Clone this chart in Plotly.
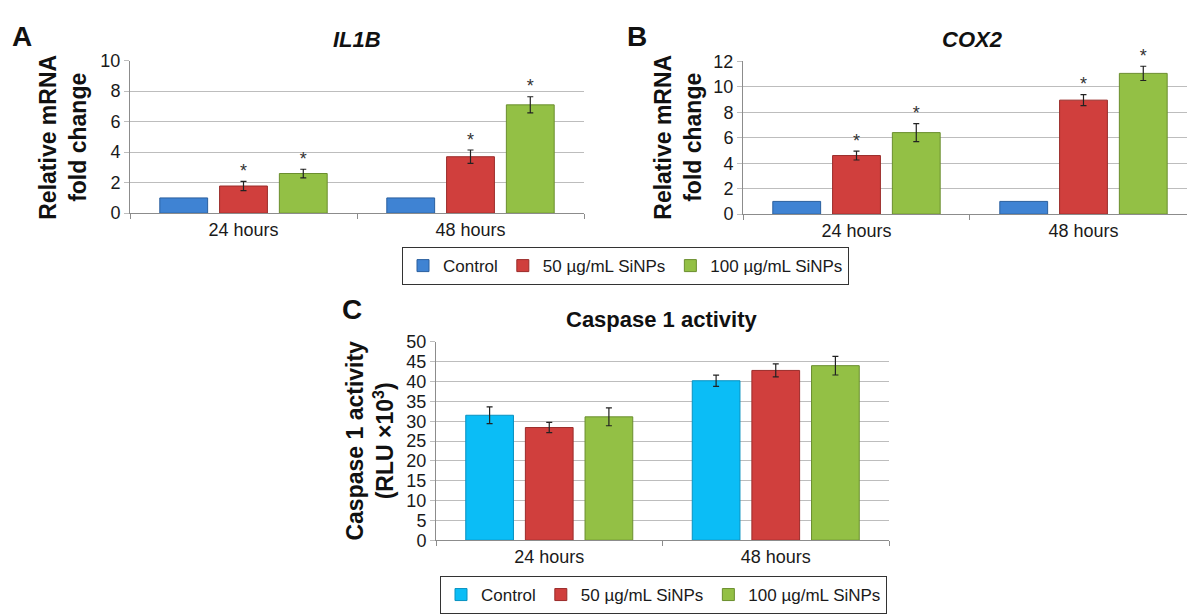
import plotly.graph_objects as go

# ---------------- data ----------------
categories = ["24 hours", "48 hours"]
series_names = ["Control", "50 µg/mL SiNPs", "100 µg/mL SiNPs"]

il1b_control = [1.0, 1.0]
il1b_50 = [1.78, 3.7]
il1b_100 = [2.6, 7.1]
il1b_50_err = [0.30, 0.44]
il1b_100_err = [0.28, 0.53]

cox2_control = [1.0, 1.0]
cox2_50 = [4.6, 8.95]
cox2_100 = [6.4, 11.05]
cox2_50_err = [0.35, 0.43]
cox2_100_err = [0.70, 0.56]

casp_control = [31.5, 40.2]
casp_50 = [28.4, 42.8]
casp_100 = [31.1, 44.0]
casp_control_err = [2.1, 1.4]
casp_50_err = [1.3, 1.65]
casp_100_err = [2.25, 2.35]

# significance marks per series (None = series has no marks)
sig_control = None
sig_treated = ["*", "*"]

ticks_mrna_a = [0, 2, 4, 6, 8, 10]
ticks_mrna_b = [0, 2, 4, 6, 8, 10, 12]
ticks_casp = [0, 5, 10, 15, 20, 25, 30, 35, 40, 45, 50]

# ---------------- styles ----------------
W, H = 1187, 616
FONT = "Liberation Sans, Arial, sans-serif"
col_blue, edge_blue = "#3F83D3", "#2A5F9E"
col_cyan, edge_cyan = "#0BBDF6", "#0891C0"
col_red, edge_red = "#D03F3D", "#9A2B29"
col_green, edge_green = "#93C045", "#6A8E2E"
GRID = "#BDBDBD"
AX = "#8C8C8C"
TXT = "#1A1A1A"


def px(x):
    return x / W


def py(y):
    return 1 - y / H


fig = go.Figure()


def add_panel(xa, ya, vals, errs, sigs, colors, edges, legend, showlegend):
    xref = "x" if xa == 1 else f"x{xa}"
    yref = "y" if ya == 1 else f"y{ya}"
    for name, v, e, c, ec in zip(series_names, vals, errs, colors, edges):
        fig.add_trace(go.Bar(
            x=categories, y=v, name=name, xaxis=xref, yaxis=yref,
            offsetgroup=name, legend=legend, showlegend=showlegend,
            marker=dict(color=c, line=dict(color=ec, width=1)),
            error_y=dict(type="data", array=e if e is not None else [0, 0],
                         visible=e is not None,
                         color="#222222", thickness=1.2, width=3),
        ))
    if sigs is None:
        return
    for name, v, e, s in zip(series_names, vals, errs, sigs):
        if s is None:
            # empty placeholder keeps the group slots aligned with the bars
            fig.add_trace(go.Scatter(
                x=[], y=[], mode="markers", xaxis=xref, yaxis=yref, offsetgroup=name,
                orientation="v", showlegend=False, hoverinfo="skip"))
            continue
        top = [a + b for a, b in zip(v, e)]
        fig.add_trace(go.Scatter(
            x=categories, y=top, mode="text", text=s, textposition="top center",
            textfont=dict(size=18, color="#333333", family=FONT),
            xaxis=xref, yaxis=yref, offsetgroup=name, orientation="v",
            showlegend=False, hoverinfo="skip", cliponaxis=False,
        ))


add_panel(1, 1, [il1b_control, il1b_50, il1b_100], [None, il1b_50_err, il1b_100_err],
          [sig_control, sig_treated, sig_treated],
          [col_blue, col_red, col_green], [edge_blue, edge_red, edge_green], "legend", True)
add_panel(2, 2, [cox2_control, cox2_50, cox2_100], [None, cox2_50_err, cox2_100_err],
          [sig_control, sig_treated, sig_treated],
          [col_blue, col_red, col_green], [edge_blue, edge_red, edge_green], "legend", False)
add_panel(3, 3, [casp_control, casp_50, casp_100], [casp_control_err, casp_50_err, casp_100_err],
          None,
          [col_cyan, col_red, col_green], [edge_cyan, edge_red, edge_green], "legend2", True)

xbase = dict(type="category", showgrid=False, showline=True, linecolor=AX, linewidth=1,
             ticks="outside", tickson="boundaries", ticklen=5, tickcolor=AX,
             tickfont=dict(size=18, color=TXT, family=FONT), zeroline=False,
             fixedrange=True)
ybase = dict(showgrid=True, gridcolor=GRID, gridwidth=1, showline=True, linecolor=AX,
             linewidth=1, ticks="outside", ticklen=5, tickcolor=GRID,
             tickfont=dict(size=18, color=TXT, family=FONT), zeroline=False,
             fixedrange=True)

leg = dict(orientation="h", xanchor="left", yanchor="top",
           bordercolor="#333333", borderwidth=1, bgcolor="white",
           font=dict(size=17, family=FONT, color=TXT), itemwidth=30,
           traceorder="normal")

fig.update_layout(
    width=W, height=H, margin=dict(l=0, r=0, t=0, b=0),
    paper_bgcolor="white", plot_bgcolor="white",
    barmode="group", bargap=0.21, bargroupgap=0.2,
    scattermode="group",
    font=dict(family=FONT, color=TXT),
    xaxis=dict(xbase, domain=[px(130), px(584)], anchor="y", range=[-0.5, 1.5]),
    yaxis=dict(ybase, domain=[py(210), py(52.3)], anchor="x", range=[0, 10],
               tickvals=ticks_mrna_a),
    xaxis2=dict(xbase, domain=[px(743), 1.0], anchor="y2", range=[-0.5, 1.456]),
    yaxis2=dict(ybase, domain=[py(211), py(53)], anchor="x2", range=[0, 12],
                tickvals=ticks_mrna_b),
    xaxis3=dict(xbase, domain=[px(436), px(889)], anchor="y3", range=[-0.5, 1.5]),
    yaxis3=dict(ybase, domain=[py(548), py(343)], anchor="x3", range=[0, 50],
                tickvals=ticks_casp),
    legend=dict(leg, x=px(402), y=py(245)),
    legend2=dict(leg, x=px(440), y=py(585)),
)

ann = []
# panel letters
for t, x, y in [("A", 22, 27), ("B", 637, 27), ("C", 352, 310)]:
    ann.append(dict(text=f"<b>{t}</b>", x=px(x), y=py(y), xref="paper", yref="paper",
                    showarrow=False, font=dict(size=28, family=FONT, color="#111111"),
                    xanchor="center", yanchor="middle"))
# titles
ann.append(dict(text="<b><i>IL1B</i></b>", x=px(357), y=py(30), xref="paper", yref="paper",
                showarrow=False, font=dict(size=22, family=FONT, color="#111111"),
                xanchor="center", yanchor="middle"))
ann.append(dict(text="<b><i>COX2</i></b>", x=px(972), y=py(30), xref="paper", yref="paper",
                showarrow=False, font=dict(size=22, family=FONT, color="#111111"),
                xanchor="center", yanchor="middle"))
ann.append(dict(text="<b>Caspase 1 activity</b>", x=px(662), y=py(320), xref="paper",
                yref="paper", showarrow=False, font=dict(size=22, family=FONT, color="#111111"),
                xanchor="center", yanchor="middle"))
# y-axis titles
for txt, x, y in [("<b>Relative mRNA<br>fold change</b>", 63, 131),
                  ("<b>Relative mRNA<br>fold change</b>", 678, 132),
                  ("<b>Caspase 1 activity<br>(RLU ×10<sup>3</sup>)</b>", 370, 445)]:
    ann.append(dict(text=txt, x=px(x), y=py(y), xref="paper", yref="paper",
                    showarrow=False, textangle=-90, font=dict(size=23, family=FONT, color="#111111"),
                    xanchor="center", yanchor="middle"))
fig.update_layout(annotations=ann)

fig.write_html(
    "out.html",
    config={"displayModeBar": False, "staticPlot": True},
    post_script=(
        "document.body.style.margin='0';"
        "document.body.style.overflow='hidden';"
        "document.documentElement.style.overflow='hidden';"
    ),
)
